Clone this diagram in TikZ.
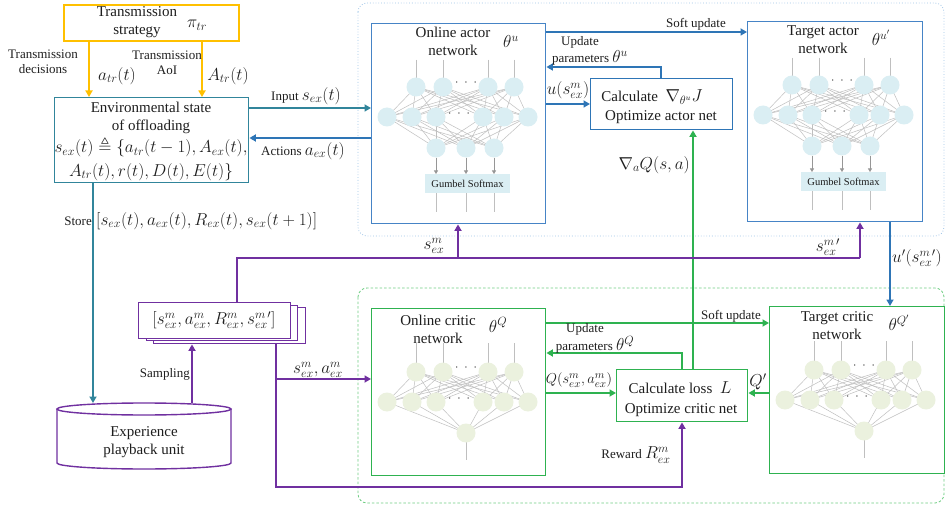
\documentclass[tikz,border=0pt]{standalone}
\usepackage{amsmath,amssymb}
\usepackage{fontspec}
\setmainfont{Liberation Serif}
\usetikzlibrary{arrows.meta,calc}

\definecolor{cOrange}{RGB}{255,192,0}
\definecolor{cTeal}{RGB}{49,133,155}
\definecolor{cBlue}{RGB}{46,117,182}
\definecolor{cBlueBox}{RGB}{70,132,198}
\definecolor{cGreen}{RGB}{46,178,80}
\definecolor{cPurple}{RGB}{112,48,160}
\definecolor{cNodeBlue}{RGB}{218,238,243}
\definecolor{cNodeGreen}{RGB}{235,241,222}
\definecolor{cGray}{RGB}{191,191,191}
\definecolor{cNetArrow}{RGB}{150,150,150}
\definecolor{cDotBlue}{RGB}{157,195,230}
\definecolor{cDashGreen}{RGB}{110,205,130}
\definecolor{cText}{RGB}{30,30,30}

% larger size for formulas set inside text labels
\newcommand\bigmath[1]{{\fontsize{17}{20}\selectfont$#1$}}

\tikzset{
  bx/.style={draw, rectangle, anchor=north west, inner sep=0pt, line width=1.4pt, fill=white},
  ttl/.style={font=\fontsize{15}{18}\selectfont, align=center, inner sep=0pt, text=cText},
  lbl/.style={font=\fontsize{13}{15.5}\selectfont, align=center, inner sep=0pt, text=cText},
  mth/.style={font=\fontsize{17}{20}\selectfont, inner sep=0pt, text=cText},
  conn/.style={line width=1.7pt, >={Triangle[length=6.5pt,width=7pt]}},
  netline/.style={draw=cGray, line width=0.5pt},
  netarrow/.style={draw=cNetArrow, line width=0.6pt, -{Triangle[length=3.5pt,width=4pt]}},
  neuron/.style={circle, inner sep=0pt, minimum size=19pt},
  gumbel/.style={rectangle, fill=cNodeBlue, minimum width=85pt, minimum height=19pt, inner sep=0pt,
                 font=\fontsize{10.5}{12}\selectfont, text=cText},
  netdots/.style={inner sep=0pt, font=\fontsize{13}{15}\selectfont, text=cText},
}

% Policy network: input, hidden layer, three outputs and a Gumbel-Softmax block
\newcommand\actornet[4]{%
  \begin{scope}[shift={(#1,#2)}]
    \foreach \x in {45,72,117,143} \draw[netline] (\x,37) -- (\x,64);
    \foreach \a in {45,72,117,143}
      \foreach \b in {16,41,65,112,133,157} \draw[netline] (\a,64) -- (\b,94);
    \foreach \b in {16,41,65,112,133,157}
      \foreach \c in {65,95,123} \draw[netline] (\b,94) -- (\c,125);
    \foreach \x [count=\i] in {45,72,117,143} \node[neuron, fill=#3] (#4-t\i) at (\x,64) {};
    \foreach \x [count=\i] in {16,41,65,112,133,157} \node[neuron, fill=#3] (#4-m\i) at (\x,94) {};
    \foreach \x [count=\i] in {65,95,123} {
      \node[neuron, fill=#3] (#4-o\i) at (\x,125) {};
      \draw[netarrow] (#4-o\i.south) -- (\x,151);
      \draw[netline] (\x,170) -- (\x,189);
    }
    \node[netdots] (#4-d1) at (95,60) {$\cdot\ \cdot\ \cdot$};
    \node[netdots] (#4-d2) at (88,91) {$\cdot\ \cdot\ \cdot$};
    \node[gumbel] (#4-g) at (96.5,160.5) {Gumbel Softmax};
  \end{scope}}

% Value network: input, hidden layer and a single output
\newcommand\criticnet[4]{%
  \begin{scope}[shift={(#1,#2)}]
    \foreach \x in {45,72,117,143} \draw[netline] (\x,35) -- (\x,64);
    \foreach \a in {45,72,117,143}
      \foreach \b in {16,41,65,112,133,157} \draw[netline] (\a,64) -- (\b,94);
    \foreach \b in {16,41,65,112,133,157} \draw[netline] (\b,94) -- (95,125);
    \draw[netline] (95,125) -- (95,152);
    \foreach \x [count=\i] in {45,72,117,143} \node[neuron, fill=#3] (#4-t\i) at (\x,64) {};
    \foreach \x [count=\i] in {16,41,65,112,133,157} \node[neuron, fill=#3] (#4-m\i) at (\x,94) {};
    \node[neuron, fill=#3] (#4-o1) at (95,125) {};
    \node[netdots] (#4-d1) at (95,60) {$\cdot\ \cdot\ \cdot$};
    \node[netdots] (#4-d2) at (88,91) {$\cdot\ \cdot\ \cdot$};
  \end{scope}}

\begin{document}
\begin{tikzpicture}[x=1pt,y=-1pt]
\useasboundingbox (0,0) rectangle (946,508);

% ---- grouping frames ----
\draw[cDotBlue, dotted, line width=0.8pt, rounded corners=9pt] (358,3) rectangle (944,236);
\draw[cDashGreen, dashed, dash pattern=on 2.5pt off 2pt, line width=0.8pt, rounded corners=9pt] (358,288) rectangle (944,503);

% ---- boxes ----
\node[bx, draw=cOrange, line width=1.8pt, minimum width=175pt, minimum height=36pt] (trans) at (63,4) {};
\node[bx, draw=cTeal, minimum width=194pt, minimum height=85pt] (env) at (54,97) {};
\node[bx, draw=cBlueBox, minimum width=174pt, minimum height=200pt] (actor) at (371,23) {};
\node[bx, draw=cBlueBox, minimum width=175pt, minimum height=200pt] (tactor) at (747,21) {};
\node[bx, draw=cBlue, minimum width=142pt, minimum height=51pt] (cact) at (590,78) {};
\node[bx, draw=cGreen, minimum width=174pt, minimum height=167pt] (critic) at (371,308) {};
\node[bx, draw=cGreen, minimum width=175pt, minimum height=167pt] (tcritic) at (769,306) {};
\node[bx, draw=cGreen, minimum width=131pt, minimum height=52pt] (closs) at (616,369) {};
\node[bx, draw=cPurple, minimum width=152pt, minimum height=36pt] (stk3) at (153,307) {};
\node[bx, draw=cPurple, minimum width=151pt, minimum height=35pt] (stk2) at (146,305) {};
\node[bx, draw=cPurple, minimum width=152pt, minimum height=36pt] (stk1) at (138,302) {};

% ---- experience buffer (cylinder) ----
\draw[cPurple, line width=1.4pt, fill=white]
  (57,409) -- (57,463) arc[start angle=180, end angle=360, x radius=87pt, y radius=6pt] -- (231,409);
\draw[cPurple, line width=1.4pt] (144,409) ellipse[x radius=87pt, y radius=6pt];
\coordinate (storeEnd) at (93,403);
\coordinate (sampStart) at (192,403);
\node[ttl] (cylTxt) at (144,442) {Experience\\playback unit};

% ---- networks ----
\actornet{371}{23}{cNodeBlue}{an}
\actornet{747}{21}{cNodeBlue}{tn}
\criticnet{371}{308}{cNodeGreen}{cn}
\criticnet{769}{306}{cNodeGreen}{qn}

% ---- box texts ----
\node[ttl] (transTxt) at (137,22) {Transmission\\strategy};
\node[mth] (piTxt) at (197,25) {$\pi_{tr}$};
\node[ttl] (envT1) at (151,107) {Environmental state};
\node[ttl] (envT2) at (151,127) {of offloading};
\node[mth] (envF1) at (151,147) {$s_{ex}(t)\triangleq\{a_{tr}(t-1),A_{ex}(t),$};
\node[mth] (envF2) at (151,172) {$A_{tr}(t),r(t),D(t),E(t)\}$};
\node[ttl] (actTxt) at (453,41) {Online actor\\network};
\node[mth] (actTh) at (511,42) {$\theta^{u}$};
\node[ttl] (tactTxt) at (823,40) {Target actor\\network};
\node[mth] (tactTh) at (881,38) {$\theta^{u'}$};
\node[ttl] (cactT1) at (652,97) {Calculate \ \bigmath{\nabla_{\theta^u}J}};
\node[ttl] (cactT2) at (661,117) {Optimize actor net};
\node[ttl] (critTxt) at (438,329) {Online critic\\network};
\node[mth] (critTh) at (498,325) {$\theta^{Q}$};
\node[ttl] (tcritTxt) at (837,326) {Target critic\\network};
\node[mth] (tcritTh) at (899,323) {$\theta^{Q'}$};
\node[ttl] (clossT1) at (680,388) {Calculate loss \ \bigmath{L}};
\node[ttl] (clossT2) at (681,410) {Optimize critic net};
\node[mth] (stkTxt) at (214,320) {$[s^{m}_{ex},a^{m}_{ex},R^{m}_{ex},s^{m\,\prime}_{ex}]$};

% ---- reference coordinates for connectors ----
\coordinate (xTd) at (89,0);
\coordinate (xTa) at (202,0);
\coordinate (xSt) at (93,0);
\coordinate (yIn) at (0,108);
\coordinate (yAc) at (0,138);
\coordinate (ySoftA) at (0,32);
\coordinate (yUpA) at (0,67);
\coordinate (xUpA) at (661,0);
\coordinate (yU) at (0,104);
\coordinate (xGrad) at (693,0);
\coordinate (xUp) at (890,0);
\coordinate (xSm) at (237,0);
\coordinate (ySm) at (0,258);
\coordinate (xSa) at (458,0);
\coordinate (xSt2) at (860,0);
\coordinate (xSb) at (276,0);
\coordinate (ySa) at (0,379);
\coordinate (yRw) at (0,487);
\coordinate (xUq) at (682,0);
\coordinate (yUq) at (0,353);
\coordinate (ySoftC) at (0,323);
\coordinate (yQ) at (0,393);

% ---- orange: transmission ----
\draw[conn, cOrange, ->] (trans.south -| xTd) -- (env.north -| xTd);
\draw[conn, cOrange, ->] (trans.south -| xTa) -- (env.north -| xTa);

% ---- environment <-> actor ----
\draw[conn, cTeal, ->] (env.east |- yIn) -- (actor.west |- yIn);
\draw[conn, cBlue, ->] (actor.west |- yAc) -- (env.east |- yAc);
\draw[conn, cTeal, ->] (env.south -| xSt) -- (storeEnd);

% ---- actor side (blue) ----
\draw[conn, cBlue, ->] (actor.east |- ySoftA) -- (tactor.west |- ySoftA);
\draw[conn, cBlue, ->] (cact.north -| xUpA) -- (xUpA |- yUpA) -- (actor.east |- yUpA);
\draw[conn, cBlue, ->] (actor.east |- yU) -- (cact.west |- yU);
\draw[conn, cBlue, ->] (tactor.south -| xUp) -- (tcritic.north -| xUp);

% ---- critic side (green) ----
\draw[conn, cGreen, ->] (closs.north -| xGrad) -- (cact.south -| xGrad);
\draw[conn, cGreen, ->] (closs.north -| xUq) -- (xUq |- yUq) -- (critic.east |- yUq);
\draw[conn, cGreen, ->] (critic.east |- ySoftC) -- (tcritic.west |- ySoftC);
\draw[conn, cGreen, ->] (critic.east |- yQ) -- (closs.west |- yQ);
\draw[conn, cGreen, ->] (tcritic.west |- yQ) -- (closs.east |- yQ);

% ---- sampled minibatch (purple) ----
\draw[conn, cPurple, ->] (sampStart) -- (stk3.south -| sampStart);
\draw[conn, cPurple] (stk1.north -| xSm) -- (xSm |- ySm) -- (xSt2 |- ySm);
\draw[conn, cPurple, ->] (xSa |- ySm) -- (actor.south -| xSa);
\draw[conn, cPurple, ->] (xSt2 |- ySm) -- (tactor.south -| xSt2);
\draw[conn, cPurple, ->] (stk3.south -| xSb) -- (xSb |- yRw) -- (xUq |- yRw) -- (closs.south -| xUq);
\draw[conn, cPurple, ->] (xSb |- ySa) -- (critic.west |- ySa);

% ---- connector labels ----
\node[lbl] (lTd) at (43,62) {Transmission\\decisions};
\node[mth] (lAtr) at (117,76) {$a_{tr}(t)$};
\node[lbl] (lAoI) at (167,63) {Transmission\\AoI};
\node[mth] (lAtr2) at (228,76) {$A_{tr}(t)$};
\node[lbl] (lIn) at (306,96) {Input \bigmath{s_{ex}(t)}};
\node[lbl] (lAc) at (303,151) {Actions \bigmath{a_{ex}(t)}};
\node[lbl, anchor=east] (lStore) at (92,221) {Store};
\node[mth, anchor=west] (lStoreF) at (96,221) {$[s_{ex}(t),a_{ex}(t),R_{ex}(t),s_{ex}(t+1)]$};
\node[lbl] (lSoftA) at (696,24) {Soft update};
\node[lbl] (lUpA) at (580,42) {Update};
\node[lbl] (lUpA2) at (590,58) {parameters \bigmath{\theta^{u}}};
\node[mth] (lU) at (568,90) {$u(s^{m}_{ex})$};
\node[mth, anchor=east] (lGrad) at (690,165) {$\nabla_{a}Q(s,a)$};
\node[mth] (lSm) at (434,246) {$s^{m}_{ex}$};
\node[mth] (lSm2) at (828,247) {$s^{m\,\prime}_{ex}$};
\node[mth] (lUp) at (917,258) {$u'(s^{m\,\prime}_{ex})$};
\node[lbl, anchor=east] (lSamp) at (190,374) {Sampling};
\node[mth] (lSa) at (318,370) {$s^{m}_{ex},a^{m}_{ex}$};
\node[lbl] (lSoftC) at (731,316) {Soft update};
\node[lbl] (lUpC) at (585,329) {Update};
\node[lbl] (lUpC2) at (595,345) {parameters \bigmath{\theta^{Q}}};
\node[mth, font=\fontsize{15.5}{18}\selectfont] (lQ) at (579,380) {$Q(s^{m}_{ex},a^{m}_{ex})$};
\node[mth] (lQ2) at (758,382) {$Q'$};
\node[lbl] (lRw) at (636,455) {Reward \bigmath{R^{m}_{ex}}};

\end{tikzpicture}
\end{document}
